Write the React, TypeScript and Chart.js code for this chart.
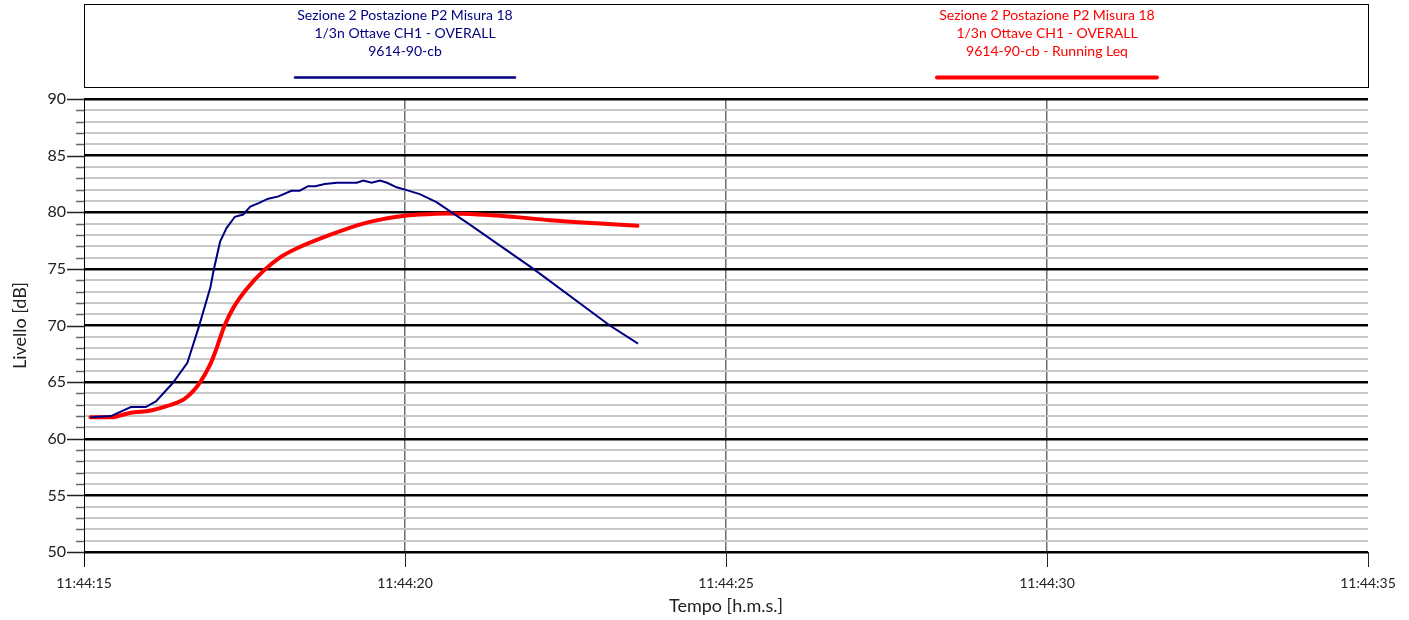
import React, { useEffect, useRef } from 'react';
import { Chart, registerables } from 'chart.js';

Chart.register(...registerables);

// ---- data ----
const X_TICK_VALUES = [0, 5, 10, 15, 20]; // seconds after 11:44:15
const X_TICK_LABELS = ['11:44:15', '11:44:20', '11:44:25', '11:44:30', '11:44:35'];
const Y_MIN = 50;
const Y_MAX = 90;

const OVERALL_T = [0.10, 0.42, 0.73, 0.96, 1.12, 1.38, 1.61, 1.79, 1.97, 2.02, 2.12, 2.22, 2.35, 2.48, 2.59, 2.72, 2.87, 3.03, 3.23, 3.36, 3.49, 3.60, 3.75, 3.94, 4.09, 4.25, 4.35, 4.48, 4.61, 4.72, 4.87, 5.00, 5.23, 5.49, 5.75, 5.96, 7.00, 8.19, 8.63];
const OVERALL_DB = [61.9, 62.0, 62.8, 62.8, 63.3, 64.9, 66.7, 69.9, 73.4, 74.9, 77.4, 78.6, 79.6, 79.8, 80.5, 80.8, 81.2, 81.4, 81.9, 81.9, 82.3, 82.3, 82.5, 82.6, 82.6, 82.6, 82.8, 82.6, 82.8, 82.6, 82.2, 82.0, 81.6, 80.9, 79.9, 79.1, 75.0, 70.0, 68.4];

const LEQ_T = [0.10, 0.42, 0.73, 1.04, 1.30, 1.56, 1.70, 1.81, 1.96, 2.04, 2.12, 2.19, 2.33, 2.53, 2.79, 3.05, 3.31, 3.83, 4.35, 4.87, 5.23, 5.70, 6.48, 7.26, 8.04, 8.62];
const LEQ_DB = [61.9, 61.9, 62.3, 62.5, 62.9, 63.5, 64.2, 65.0, 66.5, 67.6, 68.9, 70.0, 71.6, 73.2, 74.8, 76.0, 76.8, 78.0, 79.0, 79.6, 79.8, 79.9, 79.7, 79.3, 79.0, 78.8];

const LEGEND_OVERALL = ['Sezione 2 Postazione P2 Misura 18', '1/3n Ottave CH1 - OVERALL', '9614-90-cb'];
const LEGEND_LEQ = ['Sezione 2 Postazione P2 Misura 18', '1/3n Ottave CH1 - OVERALL', '9614-90-cb - Running Leq'];

const X_TITLE = 'Tempo [h.m.s.]';
const Y_TITLE = 'Livello [dB]';

const BLUE = '#000080';
const RED = '#ff0000';
const FONT = 'Lato, "Open Sans", sans-serif';

const decorPlugin = {
  id: 'decor',
  afterDraw(chart: any) {
    const ctx = chart.ctx;
    const xs = chart.scales.x;
    const ys = chart.scales.y;
    const area = chart.chartArea;
    ctx.save();

    // legend box
    ctx.strokeStyle = '#000';
    ctx.lineWidth = 1;
    ctx.strokeRect(area.left + 0.5, 4.5, area.right - area.left, 83);

    const drawEntry = (lines: string[], color: string, cx: number, lw: number, x0: number, x1: number) => {
      ctx.fillStyle = color;
      ctx.font = '14px ' + FONT;
      ctx.textAlign = 'center';
      ctx.textBaseline = 'middle';
      lines.forEach((t, i) => ctx.fillText(t, cx, 15 + i * 18));
      ctx.strokeStyle = color;
      ctx.lineWidth = lw;
      ctx.lineCap = 'round';
      ctx.beginPath();
      ctx.moveTo(x0, 77.5);
      ctx.lineTo(x1, 77.5);
      ctx.stroke();
    };
    const w = area.right - area.left;
    const c1 = area.left + w * 0.25;
    const c2 = area.left + w * 0.75;
    drawEntry(LEGEND_OVERALL, BLUE, c1, 2.5, c1 - 110, c1 + 110);
    drawEntry(LEGEND_LEQ, RED, c2, 4, c2 - 110, c2 + 110);
    ctx.lineCap = 'butt';

    // y tick marks
    for (let v = Y_MIN; v <= Y_MAX; v++) {
      const y = Math.round(ys.getPixelForValue(v)) + 0.5;
      const major = v % 5 === 0;
      ctx.strokeStyle = major ? '#222' : '#666';
      ctx.lineWidth = 1.5;
      ctx.beginPath();
      ctx.moveTo(major ? area.left - 17 : area.left - 8, y);
      ctx.lineTo(area.left, y);
      ctx.stroke();
    }
    // x tick marks
    X_TICK_VALUES.forEach((v) => {
      const x = Math.round(xs.getPixelForValue(v)) + 0.5;
      ctx.strokeStyle = '#222';
      ctx.lineWidth = 1;
      ctx.beginPath();
      ctx.moveTo(x, area.bottom);
      ctx.lineTo(x, area.bottom + 15);
      ctx.stroke();
    });
    // y axis line
    ctx.strokeStyle = '#000';
    ctx.lineWidth = 1;
    ctx.beginPath();
    ctx.moveTo(area.left + 0.5, area.top);
    ctx.lineTo(area.left + 0.5, area.bottom + 15);
    ctx.stroke();

    // titles
    ctx.fillStyle = '#222';
    ctx.font = '18px ' + FONT;
    ctx.textAlign = 'center';
    ctx.textBaseline = 'middle';
    ctx.fillText(X_TITLE, (area.left + area.right) / 2, 606);
    ctx.translate(20, (area.top + area.bottom) / 2);
    ctx.rotate(-Math.PI / 2);
    ctx.fillText(Y_TITLE, 0, 0);
    ctx.restore();
  },
};

export default function App() {
  const ref = useRef<HTMLCanvasElement | null>(null);

  useEffect(() => {
    if (!ref.current) return;
    const chart = new Chart(ref.current, {
      type: 'line',
      data: {
        datasets: [
          {
            label: LEGEND_OVERALL.join(' '),
            data: OVERALL_T.map((t, i) => ({ x: t, y: OVERALL_DB[i] })),
            borderColor: BLUE,
            borderWidth: 2,
            pointRadius: 0,
            tension: 0,
            fill: false,
          },
          {
            label: LEGEND_LEQ.join(' '),
            data: LEQ_T.map((t, i) => ({ x: t, y: LEQ_DB[i] })),
            borderColor: RED,
            borderWidth: 4,
            pointRadius: 0,
            cubicInterpolationMode: 'monotone',
            borderCapStyle: 'round',
            fill: false,
          },
        ],
      },
      options: {
        animation: false,
        responsive: false,
        devicePixelRatio: 1,
        layout: { padding: { top: 99, right: 41, left: 0, bottom: 0 } },
        plugins: { legend: { display: false }, tooltip: { enabled: false } },
        scales: {
          x: {
            type: 'linear',
            min: 0,
            max: 20,
            afterBuildTicks: (s: any) => {
              s.ticks = X_TICK_VALUES.map((v) => ({ value: v }));
            },
            afterFit: (s: any) => {
              s.height = 68;
              s.paddingLeft = 0;
              s.paddingRight = 0;
            },
            border: { display: false },
            grid: {
              drawTicks: false,
              color: (c: any) => (c.tick && (c.tick.value === 0 || c.tick.value === 20) ? 'rgba(0,0,0,0)' : '#6e6e6e'),
              lineWidth: 1.5,
            },
            ticks: {
              autoSkip: false,
              maxRotation: 0,
              padding: 23,
              color: '#222',
              font: { size: 14, family: FONT },
              callback: (v: any) => X_TICK_LABELS[X_TICK_VALUES.indexOf(Number(v))] ?? '',
            },
          },
          y: {
            type: 'linear',
            min: Y_MIN,
            max: Y_MAX,
            afterFit: (s: any) => {
              s.width = 84;
            },
            border: { display: false },
            grid: {
              drawTicks: false,
              color: (c: any) => (c.tick && c.tick.value % 5 === 0 ? '#000' : '#c8c8c8'),
              lineWidth: (c: any) => (c.tick && c.tick.value % 5 === 0 ? 2.5 : 2),
            },
            ticks: {
              stepSize: 1,
              autoSkip: false,
              padding: 18,
              color: '#222',
              font: { size: 16, family: FONT },
              callback: (v: any) => (Number(v) % 5 === 0 ? String(v) : ''),
            },
          },
        },
      },
      plugins: [decorPlugin],
    } as any);
    return () => chart.destroy();
  }, []);

  return (
    <div style={{ position: 'absolute', left: 0, top: 0, width: 1409, height: 620, background: '#fff' }}>
      <canvas ref={ref} width={1409} height={620} style={{ display: 'block' }} />
    </div>
  );
}
